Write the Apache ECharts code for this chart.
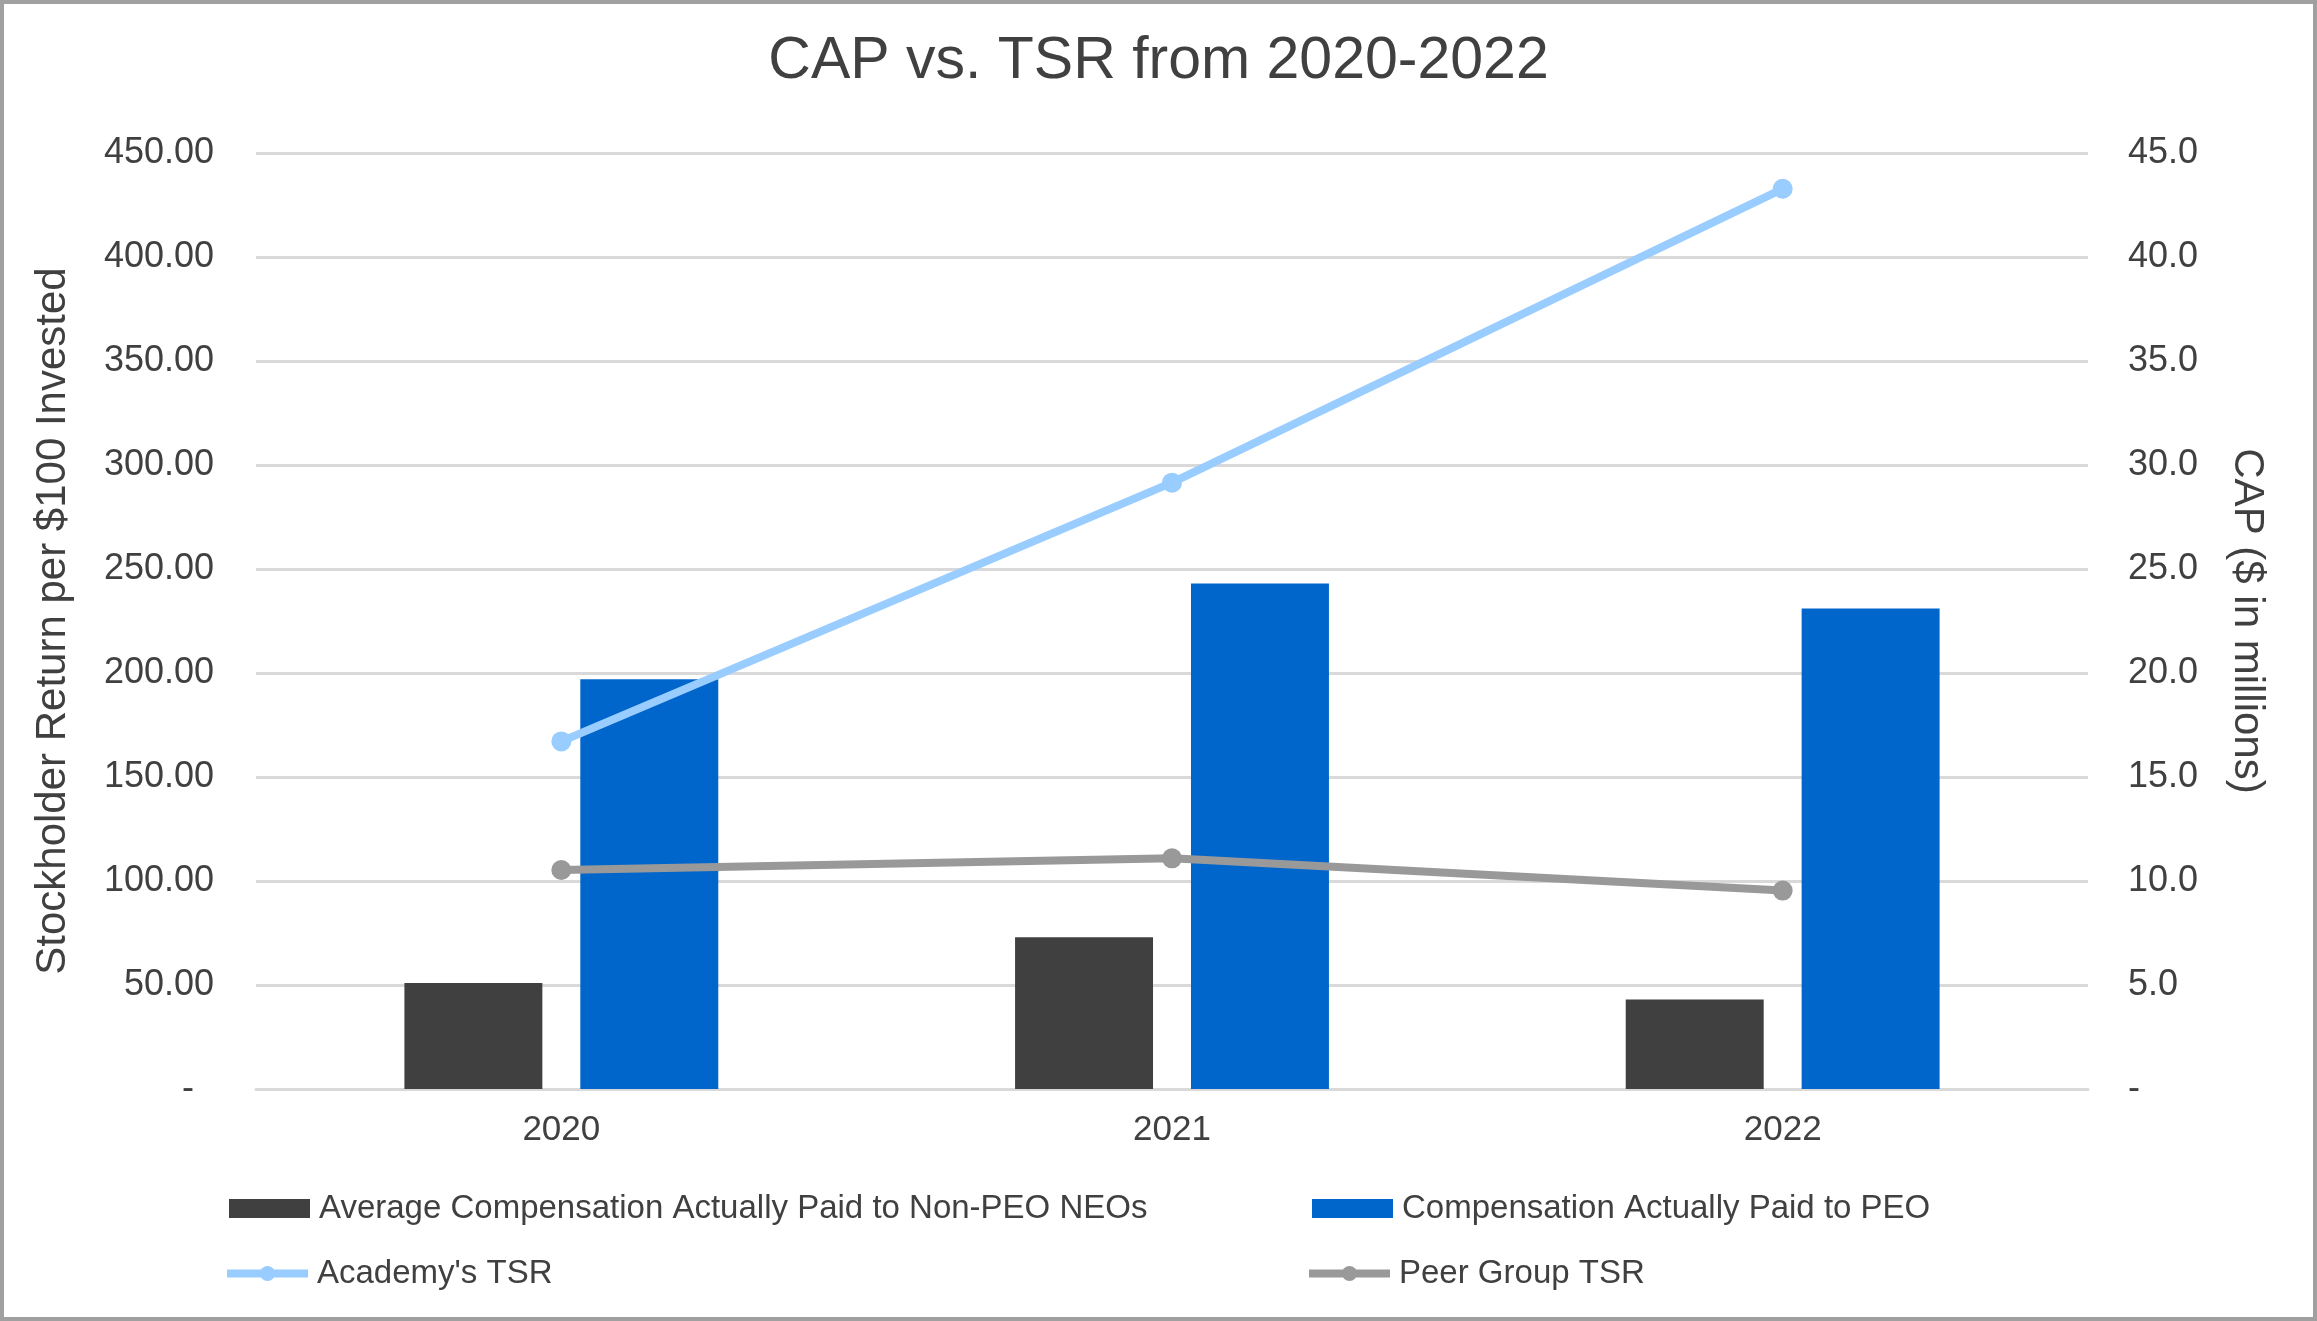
<!DOCTYPE html>
<html>
<head>
<meta charset="utf-8">
<script src="https://cdn.jsdelivr.net/npm/echarts@6/dist/echarts.min.js"></script>
<style>
html,body{margin:0;padding:0;background:#fff;}
#wrap{position:relative;width:2317px;height:1321px;}
#chart{position:absolute;left:0;top:0;width:2317px;height:1321px;}
#frame{position:absolute;left:0;top:0;width:2317px;height:1321px;box-sizing:border-box;border:4px solid #a0a0a0;pointer-events:none;}
</style>
</head>
<body>
<div id="wrap"><div id="chart"></div><div id="frame"></div></div>
<script>
const categories = ['2020', '2021', '2022'];
const nonPeoCap = [5.1, 7.3, 4.3];
const peoCap = [19.7, 24.3, 23.1];
const academyTsr = [167.1, 291.5, 432.8];
const peerTsr = [105.3, 110.9, 95.4];
const leftTicks = { min: 0, max: 450, interval: 50 };
const rightTicks = { min: 0, max: 45, interval: 5 };

const FONT = '"Liberation Sans", Arial, sans-serif';
const TXT = '#404040';
const chart = echarts.init(document.getElementById('chart'), null, {renderer: 'canvas'});

const legendBase = {
  itemWidth: 81, itemHeight: 19, itemGap: 10,
  textStyle: {fontFamily: FONT, fontSize: 33, color: TXT, padding: [0,0,0,4]},
  selectedMode: false
};

chart.setOption({
  backgroundColor: '#ffffff',
  animation: false,
  title: {
    text: 'CAP vs. TSR from 2020-2022',
    left: 'center', top: 27,
    textStyle: {fontFamily: FONT, fontSize: 59, fontWeight: 'normal', color: TXT}
  },
  legend: [
    Object.assign({}, legendBase, {left: 224, top: 1187, icon: 'rect', data: ['Average Compensation Actually Paid to Non-PEO NEOs']}),
    Object.assign({}, legendBase, {left: 1307, top: 1187, icon: 'rect', data: ['Compensation Actually Paid to PEO']}),
    Object.assign({}, legendBase, {left: 218, top: 1252, lineStyle: {width: 8}, data: ["Academy's TSR"]}),
    Object.assign({}, legendBase, {left: 1300, top: 1252, lineStyle: {width: 8}, data: ['Peer Group TSR']})
  ],
  grid: {left: 256, right: 229, top: 153, bottom: 232, containLabel: false},
  xAxis: {
    type: 'category',
    data: categories,
    axisLine: {show: true, lineStyle: {color: '#d9d9d9', width: 3}},
    axisTick: {show: false},
    axisLabel: {fontFamily: FONT, fontSize: 35, color: TXT, margin: 24}
  },
  yAxis: [
    {
      type: 'value', min: leftTicks.min, max: leftTicks.max, interval: leftTicks.interval,
      name: 'Stockholder Return per $100 Invested',
      nameLocation: 'middle', nameRotate: 90, nameGap: 182,
      nameTextStyle: {fontFamily: FONT, fontSize: 42, color: TXT},
      axisLine: {show: false}, axisTick: {show: false},
      splitLine: {show: true, lineStyle: {color: '#d9d9d9', width: 3}},
      axisLabel: {
        fontFamily: FONT, fontSize: 36, color: TXT, margin: 42,
        formatter: v => v === 0 ? '-  ' : v.toFixed(2)
      }
    },
    {
      type: 'value', min: rightTicks.min, max: rightTicks.max, interval: rightTicks.interval,
      name: 'CAP ($ in millions)',
      nameLocation: 'middle', nameRotate: -90, nameGap: 138,
      nameTextStyle: {fontFamily: FONT, fontSize: 42, color: TXT},
      axisLine: {show: false}, axisTick: {show: false},
      splitLine: {show: false},
      axisLabel: {
        fontFamily: FONT, fontSize: 36, color: TXT, margin: 40,
        formatter: v => v === 0 ? '-' : v.toFixed(1)
      }
    }
  ],
  series: [
    {
      name: 'Average Compensation Actually Paid to Non-PEO NEOs',
      type: 'bar', yAxisIndex: 1, data: nonPeoCap,
      itemStyle: {color: '#404040'},
      barGap: '27.5%', barCategoryGap: '48.6%'
    },
    {
      name: 'Compensation Actually Paid to PEO',
      type: 'bar', yAxisIndex: 1, data: peoCap,
      itemStyle: {color: '#0066cc'},
      barGap: '27.5%', barCategoryGap: '48.6%'
    },
    {
      name: "Academy's TSR",
      type: 'line', yAxisIndex: 0, data: academyTsr,
      symbol: 'circle', symbolSize: 20,
      lineStyle: {color: '#99ccff', width: 8},
      itemStyle: {color: '#99ccff'}
    },
    {
      name: 'Peer Group TSR',
      type: 'line', yAxisIndex: 0, data: peerTsr,
      symbol: 'circle', symbolSize: 20,
      lineStyle: {color: '#999999', width: 8},
      itemStyle: {color: '#999999'}
    }
  ]
});
</script>
</body>
</html>
